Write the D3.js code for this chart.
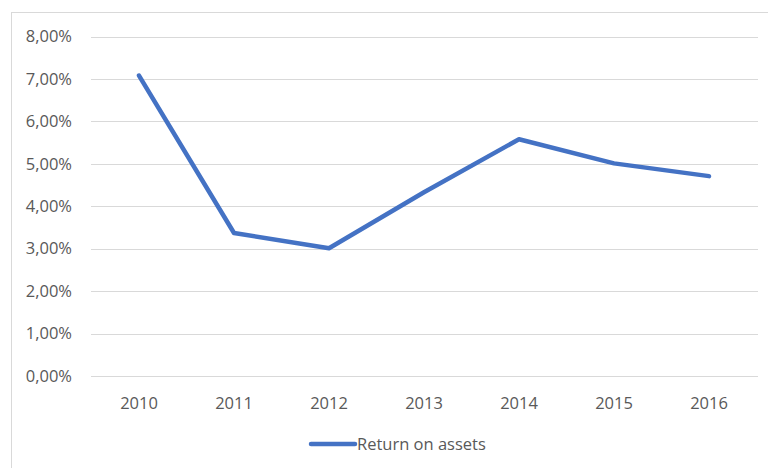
<!DOCTYPE html>
<html>
<head>
<meta charset="utf-8">
<script src="https://cdn.jsdelivr.net/npm/d3@7"></script>
<style>
  html, body { margin: 0; padding: 0; background: #fff; }
  svg { display: block; font-family: "Open Sans", "Noto Sans", sans-serif; }
</style>
</head>
<body>
<svg id="chart" width="768" height="468"></svg>
<script>
// Return on assets by year
const years = ["2010", "2011", "2012", "2013", "2014", "2015", "2016"];
const roa = [0.0708, 0.0337, 0.0301, 0.0433, 0.0558, 0.0501, 0.0471];
const yTicks = [0, 0.01, 0.02, 0.03, 0.04, 0.05, 0.06, 0.07, 0.08];
const seriesName = "Return on assets";

const svg = d3.select("#chart");
const fontSize = 16.5;

// chart frame
svg.append("rect")
  .attr("x", 11.5).attr("y", 12.5)
  .attr("width", 780).attr("height", 480)
  .attr("fill", "#fff").attr("stroke", "#d9d9d9");

const x = d3.scalePoint().domain(years).range([139, 709]);
const y = d3.scaleLinear().domain([0, 0.08]).range([376, 36.5]);

const fmt = v => (v * 100).toFixed(2).replace(".", ",") + "%";

// gridlines
svg.append("g")
  .selectAll("line")
  .data(yTicks)
  .join("line")
  .attr("x1", 91).attr("x2", 758)
  .attr("y1", d => Math.round(y(d)) + 0.5)
  .attr("y2", d => Math.round(y(d)) + 0.5)
  .attr("stroke", "#d9d9d9").attr("stroke-width", 1);

// y labels
svg.append("g")
  .selectAll("text")
  .data(yTicks)
  .join("text")
  .attr("x", 72)
  .attr("y", d => y(d))
  .attr("dy", "0.35em")
  .attr("text-anchor", "end")
  .attr("font-size", fontSize)
  .attr("fill", "#595959")
  .text(fmt);

// x labels
svg.append("g")
  .selectAll("text")
  .data(years)
  .join("text")
  .attr("x", d => x(d))
  .attr("y", 403)
  .attr("dy", "0.35em")
  .attr("text-anchor", "middle")
  .attr("font-size", fontSize)
  .attr("fill", "#595959")
  .text(d => d);

// series line
const line = d3.line()
  .x((d, i) => x(years[i]))
  .y(d => y(d));

svg.append("path")
  .datum(roa)
  .attr("d", line)
  .attr("fill", "none")
  .attr("stroke", "#4472c4")
  .attr("stroke-width", 4.5)
  .attr("stroke-linejoin", "round")
  .attr("stroke-linecap", "round");

// legend
const lg = svg.append("g");
lg.append("line")
  .attr("x1", 311).attr("x2", 355)
  .attr("y1", 444).attr("y2", 444)
  .attr("stroke", "#4472c4").attr("stroke-width", 4.5)
  .attr("stroke-linecap", "round");
lg.append("text")
  .attr("x", 357).attr("y", 444)
  .attr("dy", "0.35em")
  .attr("font-size", fontSize)
  .attr("fill", "#595959")
  .text(seriesName);
</script>
</body>
</html>
